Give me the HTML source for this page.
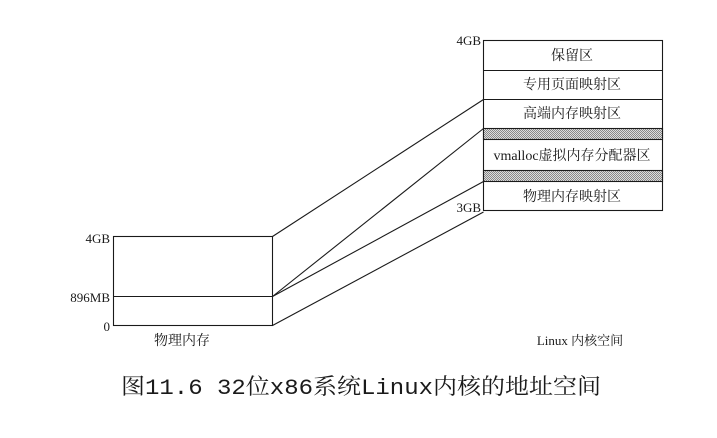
<!DOCTYPE html>
<html><head><meta charset="utf-8"><style>
html,body{margin:0;padding:0;background:#fff;}
svg{display:block}
text{font-family:"Liberation Serif","Noto Serif CJK SC",serif;fill:#1a1a1a;font-size:13px}
.c{font-size:14px}
</style></head><body>
<svg width="717" height="438" viewBox="0 0 717 438" xmlns="http://www.w3.org/2000/svg">
<defs>
<pattern id="h" width="2" height="2" patternUnits="userSpaceOnUse">
<rect width="2" height="2" fill="#ddd"/><rect width="1" height="1" fill="#888"/><rect x="1" y="1" width="1" height="1" fill="#888"/>
</pattern>
</defs>
<g stroke="#1a1a1a" stroke-width="1.1" fill="none">
<rect x="483.5" y="40.5" width="179" height="170"/>
<line x1="483" y1="70.5" x2="662" y2="70.5"/>
<line x1="483" y1="99.5" x2="662" y2="99.5"/>
<rect x="483.5" y="128.5" width="179" height="11" fill="url(#h)"/>
<rect x="483.5" y="170.5" width="179" height="11" fill="url(#h)"/>
<rect x="113.5" y="236.5" width="159" height="89"/>
<line x1="113" y1="296.5" x2="272" y2="296.5"/>
<line x1="272.5" y1="236.5" x2="483.5" y2="99.5"/>
<line x1="272.5" y1="296.5" x2="483.5" y2="128.5"/>
<line x1="272.5" y1="296.5" x2="483.5" y2="181.5"/>
<line x1="272.5" y1="325.5" x2="483.5" y2="212"/>
</g>
<text class="c" x="572" y="60" text-anchor="middle">保留区</text>
<text class="c" x="572" y="89" text-anchor="middle">专用页面映射区</text>
<text class="c" x="572" y="118" text-anchor="middle">高端内存映射区</text>
<text class="c" x="572" y="160" text-anchor="middle">vmalloc虚拟内存分配器区</text>
<text class="c" x="572" y="201" text-anchor="middle">物理内存映射区</text>
<text x="481" y="45" text-anchor="end">4GB</text>
<text x="481" y="212" text-anchor="end">3GB</text>
<text x="110" y="243" text-anchor="end">4GB</text>
<text x="110" y="302" text-anchor="end">896MB</text>
<text x="110" y="331" text-anchor="end">0</text>
<text class="c" x="182" y="345" text-anchor="middle">物理内存</text>
<text x="580" y="345" text-anchor="middle">Linux 内核空间</text>
<text x="121" y="394" textLength="480" lengthAdjust="spacingAndGlyphs" style="font-family:'Liberation Mono','Noto Serif CJK SC',serif;font-size:22px">图11.6  32位x86系统Linux内核的地址空间</text>
</svg>
</body></html>
